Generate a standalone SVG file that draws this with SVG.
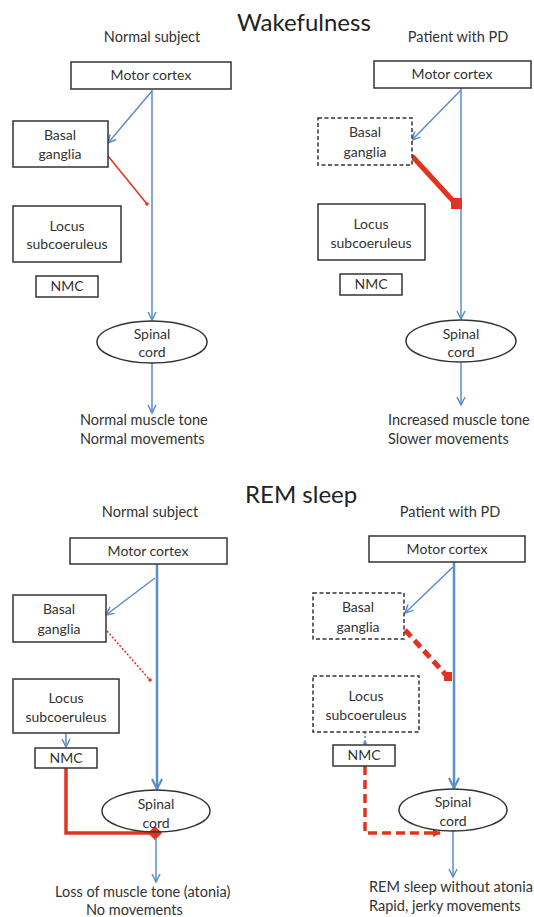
<svg xmlns="http://www.w3.org/2000/svg" width="534" height="917" viewBox="0 0 534 917">
<defs>
<style>
text{font-family:Lato,"Open Sans","Liberation Sans",sans-serif;fill:#333;}
.lbl{font-size:14px;text-anchor:middle;}
.hdr{font-size:14.5px;text-anchor:middle;}
.title{font-size:24px;fill:#222;}
.out{font-size:14.5px;}
.box{fill:#fff;stroke:#333;stroke-width:1.5;}
.dbox{fill:#fff;stroke:#333;stroke-width:1.5;stroke-dasharray:4,2.5;}
.blue{fill:none;stroke:#5b8dc8;stroke-width:1.5;}
.bluek{fill:none;stroke:#5b8dc8;stroke-width:2.5;}
.red{fill:none;stroke:#e2331f;}
</style>
<marker id="ab" markerUnits="userSpaceOnUse" markerWidth="12" markerHeight="12" refX="9" refY="5" orient="auto">
<path d="M1,1 L9,5 L1,9" fill="none" stroke="#5b8dc8" stroke-width="1.5"/>
</marker>
<marker id="abk" markerUnits="userSpaceOnUse" markerWidth="14" markerHeight="14" refX="11" refY="6" orient="auto">
<path d="M1,1 L11,6 L1,11" fill="none" stroke="#5b8dc8" stroke-width="2.2"/>
</marker>
<marker id="ar" markerUnits="userSpaceOnUse" markerWidth="10" markerHeight="10" refX="7" refY="4" orient="auto">
<path d="M0,0 L8,4 L0,8 z" fill="#e2331f"/>
</marker>
</defs>
<rect width="534" height="917" fill="#fff"/>

<text class="title" x="237" y="31">Wakefulness</text>
<text class="hdr" x="152" y="42">Normal subject</text>
<text class="hdr" x="458" y="42">Patient with PD</text>
<text class="title" x="245" y="503">REM sleep</text>
<text class="hdr" x="150" y="517">Normal subject</text>
<text class="hdr" x="450" y="517">Patient with PD</text>

<g id="connectors">
<!-- top-left -->
<line class="blue" x1="152" y1="90" x2="152" y2="320" marker-end="url(#ab)"/>
<line class="blue" x1="152" y1="91" x2="108" y2="143" marker-end="url(#ab)"/>
<line class="red" stroke-width="1.5" x1="108" y1="156" x2="147" y2="204"/>
<circle cx="147" cy="204" r="1.8" fill="#e2331f"/>
<line class="blue" x1="152" y1="363" x2="152" y2="413" marker-end="url(#ab)"/>
<!-- top-right -->
<line class="blue" x1="461" y1="88" x2="461" y2="319" marker-end="url(#ab)"/>
<line class="blue" x1="461" y1="90" x2="412" y2="140" marker-end="url(#ab)"/>
<line class="red" stroke-width="5" x1="412" y1="156" x2="455" y2="203"/>
<rect x="451" y="198" width="11" height="11" fill="#e2331f"/>
<line class="blue" x1="461" y1="363" x2="461" y2="405" marker-end="url(#ab)"/>
<!-- bottom-left -->
<line class="bluek" x1="157" y1="564" x2="157" y2="789" marker-end="url(#abk)"/>
<line class="blue" x1="155" y1="578" x2="106" y2="615" marker-end="url(#ab)"/>
<line class="red" stroke-width="1.5" stroke-dasharray="2,1.8" x1="107" y1="631" x2="150" y2="680"/>
<circle cx="150" cy="680" r="1.8" fill="#e2331f"/>
<line class="blue" x1="66" y1="733" x2="66" y2="747" marker-end="url(#ab)"/>
<path class="red" stroke-width="3.5" d="M66,768 V833 H155"/>
<rect x="150" y="828" width="10" height="10" fill="#e2331f" transform="rotate(45 155 833)"/>
<line class="blue" x1="156" y1="838" x2="156" y2="882" marker-end="url(#ab)"/>
<!-- bottom-right -->
<line class="bluek" x1="454" y1="562" x2="454" y2="788" marker-end="url(#abk)"/>
<line class="blue" x1="453" y1="567" x2="405" y2="613" marker-end="url(#ab)"/>
<line class="red" stroke-width="5" stroke-dasharray="9,5" x1="405" y1="630" x2="446" y2="675"/>
<rect x="444" y="672" width="8" height="9" fill="#e2331f"/>
<line class="blue" stroke-dasharray="2,2" x1="365" y1="732" x2="365" y2="745"/>
<circle cx="365" cy="743" r="1.8" fill="#5b8dc8"/>
<path class="red" stroke-width="3.5" stroke-dasharray="9,5" d="M365,766 V833 H440" marker-end="url(#ar)"/>
<line class="blue" x1="453" y1="830" x2="453" y2="877" marker-end="url(#ab)"/>
</g>

<!-- top-left nodes -->
<g id="tl-motor"><rect class="box" x="71" y="62" width="160" height="27"/><text class="lbl" x="151" y="80">Motor cortex</text></g>
<g id="tl-basal"><rect class="box" x="13" y="121" width="95" height="46"/><text class="lbl" x="60" y="140">Basal</text><text class="lbl" x="60" y="159">ganglia</text></g>
<g id="tl-locus"><rect class="box" x="13" y="206" width="108" height="56"/><text class="lbl" x="67" y="231">Locus</text><text class="lbl" x="67" y="249">subcoeruleus</text></g>
<g id="tl-nmc"><rect class="box" x="36" y="276" width="62" height="21"/><text class="lbl" x="67" y="291">NMC</text></g>
<g id="tl-spinal"><ellipse class="box" cx="152" cy="342" rx="55" ry="21"/><text class="lbl" x="152" y="339">Spinal</text><text class="lbl" x="152" y="357">cord</text></g>
<g id="tl-out"><text class="out" x="80" y="425">Normal muscle tone</text><text class="out" x="80" y="444">Normal movements</text></g>

<!-- top-right nodes -->
<g id="tr-motor"><rect class="box" x="374" y="61" width="157" height="27"/><text class="lbl" x="452" y="79">Motor cortex</text></g>
<g id="tr-basal"><rect class="dbox" x="318" y="118" width="94" height="47"/><text class="lbl" x="365" y="137">Basal</text><text class="lbl" x="365" y="157">ganglia</text></g>
<g id="tr-locus"><rect class="box" x="318" y="204" width="107" height="56"/><text class="lbl" x="371" y="229">Locus</text><text class="lbl" x="371" y="248">subcoeruleus</text></g>
<g id="tr-nmc"><rect class="box" x="340" y="274" width="62" height="21"/><text class="lbl" x="371" y="289">NMC</text></g>
<g id="tr-spinal"><ellipse class="box" cx="461" cy="341" rx="55" ry="21"/><text class="lbl" x="461" y="339">Spinal</text><text class="lbl" x="461" y="357">cord</text></g>
<g id="tr-out"><text class="out" x="388" y="425">Increased muscle tone</text><text class="out" x="388" y="444">Slower movements</text></g>

<!-- bottom-left nodes -->
<g id="bl-motor"><rect class="box" x="70" y="538" width="157" height="26"/><text class="lbl" x="148" y="556">Motor cortex</text></g>
<g id="bl-basal"><rect class="box" x="13" y="595" width="93" height="47"/><text class="lbl" x="59" y="614">Basal</text><text class="lbl" x="59" y="634">ganglia</text></g>
<g id="bl-locus"><rect class="box" x="13" y="679" width="106" height="54"/><text class="lbl" x="66" y="703">Locus</text><text class="lbl" x="66" y="722">subcoeruleus</text></g>
<g id="bl-nmc"><rect class="box" x="35" y="748" width="62" height="20"/><text class="lbl" x="66" y="763">NMC</text></g>
<g id="bl-spinal"><ellipse class="box" fill-opacity="0" cx="156" cy="811" rx="54" ry="21"/><text class="lbl" x="156" y="809">Spinal</text><text class="lbl" x="156" y="828">cord</text></g>
<g id="bl-out"><text class="out" x="55" y="897">Loss of muscle tone (atonia)</text><text class="out" x="86" y="915">No movements</text></g>

<!-- bottom-right nodes -->
<g id="br-motor"><rect class="box" x="369" y="536" width="156" height="26"/><text class="lbl" x="447" y="554">Motor cortex</text></g>
<g id="br-basal"><rect class="dbox" x="313" y="593" width="91" height="46"/><text class="lbl" x="358" y="612">Basal</text><text class="lbl" x="358" y="632">ganglia</text></g>
<g id="br-locus"><rect class="dbox" x="313" y="676" width="106" height="56"/><text class="lbl" x="366" y="701">Locus</text><text class="lbl" x="366" y="720">subcoeruleus</text></g>
<g id="br-nmc"><rect class="box" x="333" y="745" width="62" height="21"/><text class="lbl" x="364" y="760">NMC</text></g>
<g id="br-spinal"><ellipse class="box" fill-opacity="0" cx="453" cy="810" rx="54" ry="21"/><text class="lbl" x="453" y="807">Spinal</text><text class="lbl" x="453" y="826">cord</text></g>
<g id="br-out"><text class="out" x="369" y="892">REM sleep without atonia</text><text class="out" x="369" y="911">Rapid, jerky movements</text></g>
</svg>
